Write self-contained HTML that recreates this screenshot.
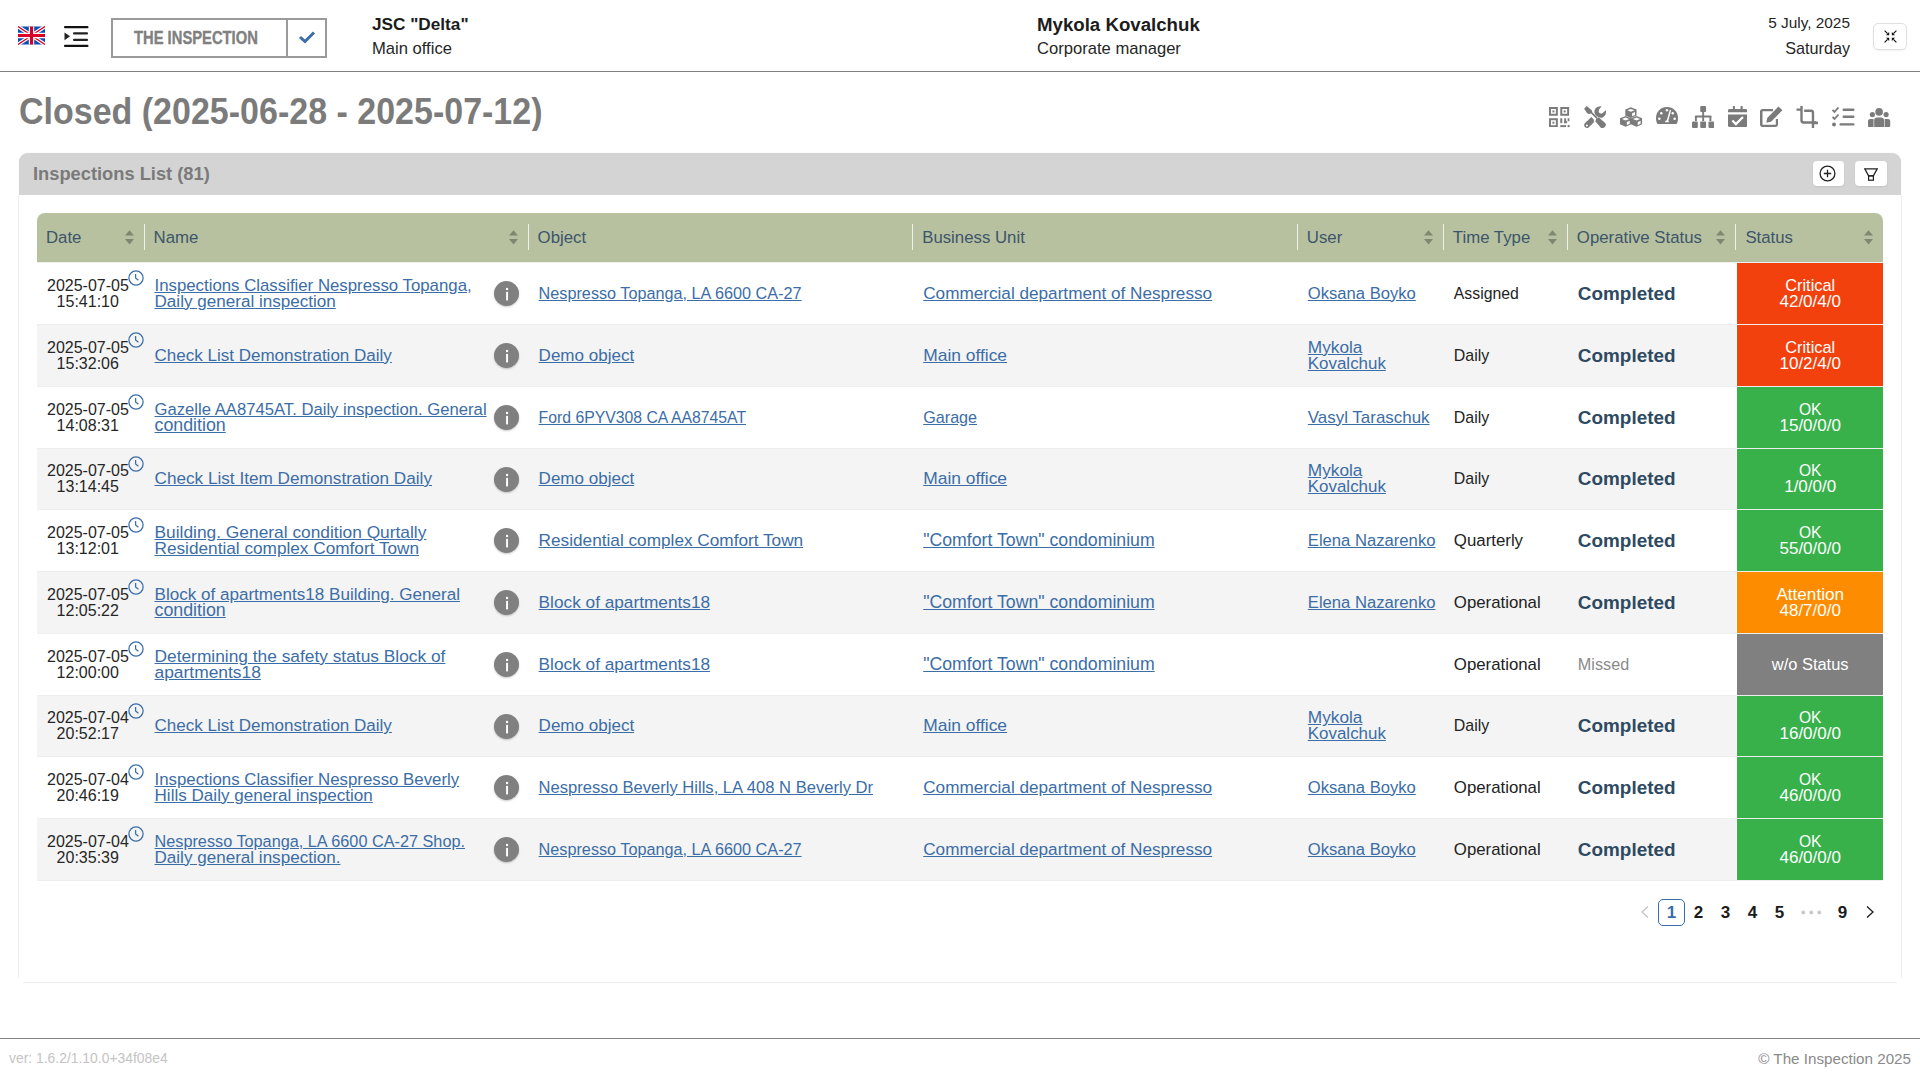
<!DOCTYPE html>
<html><head><meta charset="utf-8">
<style>
*{box-sizing:border-box}
html,body{margin:0;padding:0;width:1920px;height:1080px;overflow:hidden;background:#fff;font-family:"Liberation Sans",sans-serif;color:#222}
.abs{position:absolute;white-space:nowrap}
#hdr{position:absolute;left:0;top:0;width:1920px;height:72px;border-bottom:1px solid #808080}
.logo{position:absolute;left:111px;top:18px;width:216px;height:40px;border:2px solid #9a9a9a}
.logo .sep{position:absolute;left:173px;top:0;width:2px;height:36px;background:#9a9a9a}
.logo .txt{position:absolute;left:21px;top:8px;font-weight:bold;font-size:18px;color:#808080;transform:scaleX(0.82);transform-origin:0 0;letter-spacing:0;-webkit-text-stroke:0.35px #808080}
.b18{font-weight:bold;font-size:18px;color:#1c1c1c}
.r16{font-size:16px;color:#262626}
#title{position:absolute;left:19px;top:93px;font-size:34px;font-weight:bold;color:#7b7b7b;white-space:nowrap;transform:scaleY(1.06);transform-origin:0 100%}
.tb{position:absolute;top:106px;width:22px;height:22px}
.tb svg{width:22px;height:22px;display:block}
#panel{position:absolute;left:19px;top:153px;width:1882px;height:830px}
.pl{position:absolute;background:#ededed}
#phead{position:absolute;left:0;top:0;width:1882px;height:42px;background:#d4d4d4;border-radius:9px 9px 0 0;box-shadow:0 0 1px rgba(0,0,0,0.15)}
#phead .t{position:absolute;left:14px;top:10px;font-size:18.3px;font-weight:bold;color:#7a7a7a;white-space:nowrap}
.pbtn{position:absolute;top:8px;width:31px;height:25px;background:#fff;border-radius:4px;box-shadow:0 1px 2px rgba(0,0,0,0.08)}
table{position:absolute;left:37px;top:213px;border-collapse:separate;border-spacing:0;border-bottom:1px solid #eee;table-layout:fixed;width:1846px}
th{height:49px;box-sizing:border-box;background:#b7c1a0;text-align:left;font-weight:normal;font-size:16.8px;color:#3d556a;padding:0 0 0 9px;position:relative;white-space:nowrap}
th .dv{position:absolute;left:-1px;top:11px;width:1px;height:26px;background:#eef0ea}
th .sa{position:absolute;top:16.5px;width:9px;height:15px}
td{border-top:1px solid #eee;padding:0 0 0 10px;font-size:16.2px;line-height:15.75px;vertical-align:middle;white-space:nowrap;position:relative}
tr.g td{background:#f4f4f4}
a{color:#3b6da6;text-decoration:underline;font-size:16.7px}
td.dt{text-align:center;padding:0 16px 0 10px;color:#262626;font-size:16px;line-height:16px}
.clk{position:absolute;top:6.8px;left:90.6px;width:16px;height:16px}
.info{position:absolute;left:349.3px;width:25.4px;height:25.4px;border-radius:50%;background:#808080;top:18px;box-shadow:0 1px 2px rgba(0,0,0,0.22)}
.info svg{display:block}
td.cmp{font-weight:bold;font-size:18.9px;color:#2e4a62}
td.mis{color:#8a8a8a}
td.st{color:#fff;text-align:center;padding:0;border-left:1px solid #fff;font-size:17px;line-height:16px}
.red{background:#f3410d !important}
.grn{background:#38b14b !important}
.org{background:#fe8c00 !important}
.gry{background:#808080 !important}
#pag div{position:absolute;top:899px;height:27px;font-weight:bold;font-size:17px;line-height:27px;text-align:center;color:#1c1c1c}
#ftl{position:absolute;left:0;top:1038px;width:1920px;height:1px;background:#808080}
</style></head><body>
<div id="hdr">
  <svg class="abs" style="left:18px;top:26px" width="27" height="19" viewBox="0 0 60 40">
    <rect width="60" height="40" fill="#0a4fb4"/>
    <path d="M0,0 L60,40 M60,0 L0,40" stroke="#fff" stroke-width="8"/>
    <path d="M0,0 L60,40 M60,0 L0,40" stroke="#d80027" stroke-width="3"/>
    <path d="M30,0 V40 M0,20 H60" stroke="#fff" stroke-width="12"/>
    <path d="M30,0 V40 M0,20 H60" stroke="#d80027" stroke-width="7"/>
  </svg>
  <svg class="abs" style="left:64px;top:26px" width="25" height="21" viewBox="0 0 25 21">
    <rect x="0" y="0" width="24.5" height="2.2" rx="1" fill="#111"/>
    <rect x="9" y="6.3" width="15" height="2.2" rx="1" fill="#222"/>
    <rect x="9" y="12.7" width="15" height="2.2" rx="1" fill="#222"/>
    <rect x="0" y="18.8" width="24.5" height="2.2" rx="1" fill="#111"/>
    <path d="M0.5,6.5 L6,10.3 L0.5,14.3 Z" fill="#222"/>
  </svg>
  <div class="logo"><div class="txt">THE INSPECTION</div><div class="sep"></div>
    <svg class="abs" style="left:184.5px;top:10px" width="18" height="14" viewBox="0 0 18 14"><path d="M2,7 L7,11.5 L16,2.5" fill="none" stroke="#3b6da6" stroke-width="3"/></svg>
  </div>
  <div class="abs b18" style="left:372px;top:14px;font-size:17.2px">JSC "Delta"</div>
  <div class="abs r16" style="left:372px;top:38.5px;font-size:16.6px">Main office</div>
  <div class="abs b18" style="left:1037px;top:13.5px;font-size:18.67px">Mykola Kovalchuk</div>
  <div class="abs r16" style="left:1037px;top:38.5px;font-size:16.6px">Corporate manager</div>
  <div class="abs r16" style="right:70px;top:14px;text-align:right;font-size:15.4px">5 July, 2025</div>
  <div class="abs r16" style="right:70px;top:39px;text-align:right;font-size:16.2px">Saturday</div>
  <div class="abs" style="left:1873px;top:23px;width:34px;height:27px;border:1px solid #e0e0e0;border-radius:5px;box-shadow:0 1px 2px rgba(0,0,0,0.06)">
    <svg class="abs" style="left:9.5px;top:5.5px" width="13" height="13" viewBox="0 0 13 13" fill="#111">
      <path d="M0.6,0.6 L3.6,3.6" stroke="#111" stroke-width="1.2"/><path d="M5.2,5.2 V2 L2,5.2 Z"/>
      <path d="M12.4,0.6 L9.4,3.6" stroke="#111" stroke-width="1.2"/><path d="M7.8,5.2 V2 L11,5.2 Z"/>
      <path d="M0.6,12.4 L3.6,9.4" stroke="#111" stroke-width="1.2"/><path d="M5.2,7.8 V11 L2,7.8 Z"/>
      <path d="M12.4,12.4 L9.4,9.4" stroke="#111" stroke-width="1.2"/><path d="M7.8,7.8 V11 L11,7.8 Z"/>
    </svg>
  </div>
</div>

<div id="title">Closed (2025-06-28 - 2025-07-12)</div>
<div id="tbar">
<svg class="abs" style="left:1549px;top:107px" width="20.6" height="20.6" viewBox="0 0 21 21" fill="#7b7b7b">
 <path fill-rule="evenodd" d="M0,0 H9 V9 H0 Z M2,2 V7 H7 V2 Z"/><rect x="3.5" y="3.5" width="2" height="2"/>
 <path fill-rule="evenodd" d="M11.5,0 H20.5 V9 H11.5 Z M13.5,2 V7 H18.5 V2 Z"/><rect x="15" y="3.5" width="2" height="2"/>
 <path fill-rule="evenodd" d="M0,11.5 H9 V20.5 H0 Z M2,13.5 V18.5 H7 V13.5 Z"/><rect x="3.5" y="15" width="2" height="2"/>
 <rect x="11.5" y="11.5" width="2" height="5"/><rect x="11.5" y="18.5" width="6" height="2"/><rect x="15.5" y="11.5" width="2" height="5"/><rect x="15.5" y="14.5" width="3" height="2"/><rect x="19" y="11.5" width="1.8" height="3"/><rect x="19" y="18.3" width="2" height="2.2"/>
</svg>
<svg class="abs" style="left:1584px;top:106px" width="22" height="22" viewBox="0 0 22 22" fill="#7b7b7b">
 <path d="M0.1,2.7 L2.7,0 L8,4.4 L8.2,6.3 L13.6,11.6 L12.4,12.8 L7,7.6 L4.9,8 L3.2,7.3 Z"/>
 <path d="M12.2,12.6 L15,11.6 L21.4,17.3 C22.1,18.2 22,19.6 21.2,20.6 L20.3,21.5 C19.4,22.2 17.6,22.2 16.6,21.4 L11.4,15.6 Z"/>
 <path d="M0.6,17.6 L7.3,11 L9.8,13.5 L9.9,16.3 L4.6,21.4 C3.8,22.1 2.2,22.1 1.1,21.2 C0,20.2 -0.1,18.6 0.6,17.6 Z"/>
 <circle cx="2.9" cy="19.5" r="1" fill="#fff"/>
 <path d="M17.7,0.2 C15.5,-0.1 13,0.6 11.6,2.3 C10.2,4 10,6.4 11,8.2 L12.4,9.8 C14,11.4 16.6,12.2 18.6,11.4 C21.2,10.4 22.6,7.2 21.8,4.3 L18.4,7.2 C17,7.8 15.6,7.5 15,6.4 C14.4,5.2 14.8,3.6 15.8,2.6 Z"/>
</svg>
<svg class="abs" style="left:1620px;top:107px" width="23" height="21" viewBox="0 0 23 21" fill="#7b7b7b">
 <g transform="translate(5.3,0.2)"><path d="M5.6,0 L11.2,2.3 V8.4 L5.6,10.8 L0,8.4 V2.3 Z"/><path d="M5.6,1.7 L9.2,3.1 L5.6,4.6 L2,3.1 Z" fill="#fff"/><path d="M6.8,6 L9.7,4.8 V7.8 L6.8,9.1 Z" fill="#fff"/></g><g transform="translate(0,8.9)"><path d="M5.6,0 L11.2,2.3 V8.4 L5.6,10.8 L0,8.4 V2.3 Z"/><path d="M5.6,1.7 L9.2,3.1 L5.6,4.6 L2,3.1 Z" fill="#fff"/><path d="M6.8,6 L9.7,4.8 V7.8 L6.8,9.1 Z" fill="#fff"/></g><g transform="translate(10.9,8.9)"><path d="M5.6,0 L11.2,2.3 V8.4 L5.6,10.8 L0,8.4 V2.3 Z"/><path d="M5.6,1.7 L9.2,3.1 L5.6,4.6 L2,3.1 Z" fill="#fff"/><path d="M6.8,6 L9.7,4.8 V7.8 L6.8,9.1 Z" fill="#fff"/></g>
</svg>
<svg class="abs" style="left:1656.3px;top:107.2px" width="22" height="18" viewBox="0 0 23 19" preserveAspectRatio="none" fill="#7b7b7b">
 <path d="M11.5,0 C18,0 23,5 23,11.5 C23,14 22.5,16 21.5,18 H1.5 C0.5,16 0,14 0,11.5 C0,5 5,0 11.5,0 Z"/>
 <g fill="#fff"><circle cx="11.5" cy="3.4" r="1.3"/><circle cx="5.5" cy="6.5" r="1.3"/><circle cx="3.5" cy="12.5" r="1.3"/><circle cx="19.5" cy="12.5" r="1.3"/><circle cx="17.5" cy="6.5" r="1.3"/><path d="M14.5,3 L15.8,3.4 L12.9,14.5 C13.3,15 13.5,15.5 13.5,16 L9.5,16 C9.5,15 10.3,14.2 11.3,14.1 Z"/></g>
</svg>
<svg class="abs" style="left:1692px;top:106px" width="22.3" height="22" viewBox="0 0 23 22" preserveAspectRatio="none" fill="#7b7b7b">
 <rect x="8.5" y="0" width="6" height="6" rx="1"/>
 <rect x="10.5" y="5.5" width="2" height="5"/><rect x="3" y="9.5" width="17" height="2" rx="0.8"/>
 <rect x="3" y="10" width="2" height="5"/><rect x="10.5" y="10" width="2" height="5"/><rect x="18" y="10" width="2" height="5"/>
 <rect x="0" y="15.5" width="6" height="6.5" rx="1"/><rect x="8.5" y="15.5" width="6" height="6.5" rx="1"/><rect x="17" y="15.5" width="6" height="6.5" rx="1"/>
</svg>
<svg class="abs" style="left:1728px;top:106px" width="19.3" height="21" viewBox="0 0 20 21" preserveAspectRatio="none" fill="#7b7b7b">
 <rect x="5" y="0" width="2.2" height="4" rx="0.5"/><rect x="13" y="0" width="2.2" height="4" rx="0.5"/>
 <path d="M1.5,3 H18.5 C19.3,3 20,3.7 20,4.5 V6.3 H0 V4.5 C0,3.7 0.7,3 1.5,3 Z"/>
 <path d="M0,8.5 H20 V19.5 C20,20.3 19.3,21 18.5,21 H1.5 C0.7,21 0,20.3 0,19.5 Z"/>
 <path d="M4.5,14.5 L8.2,18 L15.5,11" fill="none" stroke="#fff" stroke-width="2.4"/>
</svg>
<svg class="abs" style="left:1760px;top:106px" width="23" height="21" viewBox="0 0 23 21" fill="#7b7b7b">
 <path d="M2.5,3 H13 V5.3 H2.5 V18.7 H15.8 V13 H18 V18.5 C18,19.9 16.9,21 15.5,21 H2.5 C1.1,21 0,19.9 0,18.5 V5.5 C0,4.1 1.1,3 2.5,3 Z"/>
 <path d="M18.5,0.6 L22.4,4.2 L11,15.8 L6.3,16.8 L7.2,12 Z"/>
</svg>
<svg class="abs" style="left:1796px;top:106px" width="22" height="22" viewBox="0 0 23 23" fill="#7b7b7b">
 <path d="M4.5,0 H7 V15 C7,15.5 7.4,16 8,16 H21.5 V18.5 H7.5 C5.8,18.5 4.5,17.2 4.5,15.5 V5 H0.5 V2.5 H4.5 Z"/>
 <path d="M8.5,3.7 H16 C17.7,3.7 19,5 19,6.7 V16.5 H23 V19 H19 V23 H16.5 V7 C16.5,6.5 16.1,6.2 15.5,6.2 H8.5 Z"/>
</svg>
<svg class="abs" style="left:1832px;top:107px" width="23" height="20" viewBox="0 0 23 20" fill="#7b7b7b">
 <path d="M0.5,3 L2.5,5 L6.5,0.5" fill="none" stroke="#7b7b7b" stroke-width="1.8"/>
 <path d="M0.5,10 L2.5,12 L6.5,7.5" fill="none" stroke="#7b7b7b" stroke-width="1.8"/>
 <circle cx="2" cy="17.5" r="2"/>
 <rect x="10.5" y="1.5" width="12" height="2.4" rx="1.2"/><rect x="10.5" y="8.5" width="12" height="2.4" rx="1.2"/><rect x="7.5" y="16.2" width="15" height="2.4" rx="1.2"/>
</svg>
<svg class="abs" style="left:1868px;top:107px" width="23" height="20" viewBox="0 0 23 20" fill="#7b7b7b">
 <circle cx="11.1" cy="4.9" r="3.8"/><circle cx="4.4" cy="7.6" r="2.6"/><circle cx="18.1" cy="7.6" r="2.6"/>
 <path d="M6.2,13.2 C6.2,11.6 7.3,10.5 8.9,10.5 H13.3 C14.9,10.5 16,11.6 16,13.2 V20 H6.2 Z"/>
 <path d="M0,14 C0,12.8 0.9,11.9 2.1,11.9 H5.6 V20 H1 C0.4,20 0,19.6 0,19 Z"/>
 <path d="M22.2,14 C22.2,12.8 21.3,11.9 20.1,11.9 H16.6 V20 H21.2 C21.8,20 22.2,19.6 22.2,19 Z"/>
</svg>
</div>


<div class="pl" style="left:18px;top:195px;width:1px;height:783px"></div><div class="pl" style="left:1901px;top:195px;width:1px;height:783px"></div><div class="pl" style="left:23px;top:982px;width:1874px;height:1px"></div>
<div id="panel">
  <div id="phead"><div class="t">Inspections List (81)</div>
    <div class="pbtn" style="left:1794px;width:31px"><svg class="abs" style="left:6px;top:4.3px" width="17" height="17" viewBox="0 0 17 17" fill="none" stroke="#222" stroke-width="1.3"><circle cx="8.5" cy="8.5" r="7.4"/><path d="M8.5,4.8 V12.2 M4.8,8.5 H12.2"/></svg></div>
    <div class="pbtn" style="left:1836px;width:32px"><svg class="abs" style="left:9px;top:6.5px" width="14" height="13" viewBox="0 0 14 13" fill="none" stroke="#222" stroke-width="1.25"><path d="M0.8,0.8 H13.2 L9.4,7.8 H4.6 Z"/><rect x="4.6" y="7.8" width="4.8" height="4.4"/></svg></div>
  </div>
</div>
<table><colgroup><col style="width:107.5px"><col style="width:384px"><col style="width:384.5px"><col style="width:384.5px"><col style="width:146px"><col style="width:124px"><col style="width:168.5px"><col style="width:146.5px"></colgroup><tr><th style="border-top-left-radius:8px">Date<svg class="sa" style="right:10.5px" viewBox="0 0 9 15"><path d="M4.5,0.3 L9,5.6 H0 Z M0,9.1 H9 L4.5,14.4 Z" fill="#7e8870"/></svg></th><th><div class="dv"></div>Name<svg class="sa" style="right:10.5px" viewBox="0 0 9 15"><path d="M4.5,0.3 L9,5.6 H0 Z M0,9.1 H9 L4.5,14.4 Z" fill="#7e8870"/></svg></th><th><div class="dv"></div>Object</th><th><div class="dv"></div>Business Unit</th><th><div class="dv"></div>User<svg class="sa" style="right:10.5px" viewBox="0 0 9 15"><path d="M4.5,0.3 L9,5.6 H0 Z M0,9.1 H9 L4.5,14.4 Z" fill="#7e8870"/></svg></th><th><div class="dv"></div>Time Type<svg class="sa" style="right:10.5px" viewBox="0 0 9 15"><path d="M4.5,0.3 L9,5.6 H0 Z M0,9.1 H9 L4.5,14.4 Z" fill="#7e8870"/></svg></th><th><div class="dv"></div>Operative Status<svg class="sa" style="right:11px" viewBox="0 0 9 15"><path d="M4.5,0.3 L9,5.6 H0 Z M0,9.1 H9 L4.5,14.4 Z" fill="#7e8870"/></svg></th><th style="border-top-right-radius:8px"><div class="dv"></div>Status<svg class="sa" style="right:10.5px" viewBox="0 0 9 15"><path d="M4.5,0.3 L9,5.6 H0 Z M0,9.1 H9 L4.5,14.4 Z" fill="#7e8870"/></svg></th></tr><tr style="height:62px"><td class="dt">2025-07-05<br>15:41:10<svg class="clk" viewBox="0 0 16 16" fill="none" stroke="#3b6da6" stroke-width="1.25"><circle cx="8" cy="8" r="7.1"/><path d="M7.6,3.9 V7.9 L10.4,10.3"/></svg></td><td><a><span style="font-size:16.81px">Inspections Classifier Nespresso Topanga,</span><br><span style="font-size:17.08px">Daily general inspection</span></a><div class="info"><svg width="25.4" height="25.4" viewBox="0 0 25.4 25.4"><rect x="12" y="6.9" width="2.1" height="2.2" fill="#fff"/><rect x="12.1" y="10.9" width="1.95" height="8.5" fill="#fff"/></svg></div></td><td><a><span style="font-size:16.23px">Nespresso Topanga, LA 6600 CA-27</span></a></td><td><a><span style="font-size:17.16px">Commercial department of Nespresso</span></a></td><td><a><span style="font-size:16.61px">Oksana Boyko</span></a></td><td><span style="font-size:15.80px">Assigned</span></td><td class="cmp">Completed</td><td class="st red"><span style="font-size:16.34px">Critical</span><br>42/0/4/0</td></tr><tr class="g" style="height:62px"><td class="dt">2025-07-05<br>15:32:06<svg class="clk" viewBox="0 0 16 16" fill="none" stroke="#3b6da6" stroke-width="1.25"><circle cx="8" cy="8" r="7.1"/><path d="M7.6,3.9 V7.9 L10.4,10.3"/></svg></td><td><a><span style="font-size:17.03px">Check List Demonstration Daily</span></a><div class="info"><svg width="25.4" height="25.4" viewBox="0 0 25.4 25.4"><rect x="12" y="6.9" width="2.1" height="2.2" fill="#fff"/><rect x="12.1" y="10.9" width="1.95" height="8.5" fill="#fff"/></svg></div></td><td><a><span style="font-size:17.03px">Demo object</span></a></td><td><a><span style="font-size:17.42px">Main office</span></a></td><td><a><span style="font-size:17.24px">Mykola</span><br><span style="font-size:16.93px">Kovalchuk</span></a></td><td><span style="font-size:15.93px">Daily</span></td><td class="cmp">Completed</td><td class="st red"><span style="font-size:16.34px">Critical</span><br>10/2/4/0</td></tr><tr style="height:62px"><td class="dt">2025-07-05<br>14:08:31<svg class="clk" viewBox="0 0 16 16" fill="none" stroke="#3b6da6" stroke-width="1.25"><circle cx="8" cy="8" r="7.1"/><path d="M7.6,3.9 V7.9 L10.4,10.3"/></svg></td><td><a><span style="font-size:16.67px">Gazelle AA8745AT. Daily inspection. General</span><br><span style="font-size:17.81px">condition</span></a><div class="info"><svg width="25.4" height="25.4" viewBox="0 0 25.4 25.4"><rect x="12" y="6.9" width="2.1" height="2.2" fill="#fff"/><rect x="12.1" y="10.9" width="1.95" height="8.5" fill="#fff"/></svg></div></td><td><a><span style="font-size:15.78px">Ford 6PYV308 CA AA8745AT</span></a></td><td><a><span style="font-size:16.16px">Garage</span></a></td><td><a><span style="font-size:16.96px">Vasyl Taraschuk</span></a></td><td><span style="font-size:15.93px">Daily</span></td><td class="cmp">Completed</td><td class="st grn"><span style="font-size:15.6px">OK</span><br>15/0/0/0</td></tr><tr class="g" style="height:61px"><td class="dt">2025-07-05<br>13:14:45<svg class="clk" viewBox="0 0 16 16" fill="none" stroke="#3b6da6" stroke-width="1.25"><circle cx="8" cy="8" r="7.1"/><path d="M7.6,3.9 V7.9 L10.4,10.3"/></svg></td><td><a><span style="font-size:17.16px">Check List Item Demonstration Daily</span></a><div class="info"><svg width="25.4" height="25.4" viewBox="0 0 25.4 25.4"><rect x="12" y="6.9" width="2.1" height="2.2" fill="#fff"/><rect x="12.1" y="10.9" width="1.95" height="8.5" fill="#fff"/></svg></div></td><td><a><span style="font-size:17.03px">Demo object</span></a></td><td><a><span style="font-size:17.42px">Main office</span></a></td><td><a><span style="font-size:17.24px">Mykola</span><br><span style="font-size:16.93px">Kovalchuk</span></a></td><td><span style="font-size:15.93px">Daily</span></td><td class="cmp">Completed</td><td class="st grn"><span style="font-size:15.6px">OK</span><br>1/0/0/0</td></tr><tr style="height:62px"><td class="dt">2025-07-05<br>13:12:01<svg class="clk" viewBox="0 0 16 16" fill="none" stroke="#3b6da6" stroke-width="1.25"><circle cx="8" cy="8" r="7.1"/><path d="M7.6,3.9 V7.9 L10.4,10.3"/></svg></td><td><a><span style="font-size:17.35px">Building. General condition Qurtally</span><br><span style="font-size:17.22px">Residential complex Comfort Town</span></a><div class="info"><svg width="25.4" height="25.4" viewBox="0 0 25.4 25.4"><rect x="12" y="6.9" width="2.1" height="2.2" fill="#fff"/><rect x="12.1" y="10.9" width="1.95" height="8.5" fill="#fff"/></svg></div></td><td><a><span style="font-size:17.22px">Residential complex Comfort Town</span></a></td><td><a><span style="font-size:17.70px">"Comfort Town" condominium</span></a></td><td><a><span style="font-size:16.65px">Elena Nazarenko</span></a></td><td><span style="font-size:16.83px">Quarterly</span></td><td class="cmp">Completed</td><td class="st grn"><span style="font-size:15.6px">OK</span><br>55/0/0/0</td></tr><tr class="g" style="height:62px"><td class="dt">2025-07-05<br>12:05:22<svg class="clk" viewBox="0 0 16 16" fill="none" stroke="#3b6da6" stroke-width="1.25"><circle cx="8" cy="8" r="7.1"/><path d="M7.6,3.9 V7.9 L10.4,10.3"/></svg></td><td><a><span style="font-size:17.07px">Block of apartments18 Building. General</span><br><span style="font-size:17.81px">condition</span></a><div class="info"><svg width="25.4" height="25.4" viewBox="0 0 25.4 25.4"><rect x="12" y="6.9" width="2.1" height="2.2" fill="#fff"/><rect x="12.1" y="10.9" width="1.95" height="8.5" fill="#fff"/></svg></div></td><td><a><span style="font-size:17.24px">Block of apartments18</span></a></td><td><a><span style="font-size:17.70px">"Comfort Town" condominium</span></a></td><td><a><span style="font-size:16.65px">Elena Nazarenko</span></a></td><td><span style="font-size:16.81px">Operational</span></td><td class="cmp">Completed</td><td class="st org"><span style="font-size:17.14px">Attention</span><br>48/7/0/0</td></tr><tr style="height:62px"><td class="dt">2025-07-05<br>12:00:00<svg class="clk" viewBox="0 0 16 16" fill="none" stroke="#3b6da6" stroke-width="1.25"><circle cx="8" cy="8" r="7.1"/><path d="M7.6,3.9 V7.9 L10.4,10.3"/></svg></td><td><a><span style="font-size:17.33px">Determining the safety status Block of</span><br><span style="font-size:17.40px">apartments18</span></a><div class="info"><svg width="25.4" height="25.4" viewBox="0 0 25.4 25.4"><rect x="12" y="6.9" width="2.1" height="2.2" fill="#fff"/><rect x="12.1" y="10.9" width="1.95" height="8.5" fill="#fff"/></svg></div></td><td><a><span style="font-size:17.24px">Block of apartments18</span></a></td><td><a><span style="font-size:17.70px">"Comfort Town" condominium</span></a></td><td></td><td><span style="font-size:16.81px">Operational</span></td><td class="mis">Missed</td><td class="st gry"><span style="font-size:16.43px">w/o Status</span></td></tr><tr class="g" style="height:61px"><td class="dt">2025-07-04<br>20:52:17<svg class="clk" viewBox="0 0 16 16" fill="none" stroke="#3b6da6" stroke-width="1.25"><circle cx="8" cy="8" r="7.1"/><path d="M7.6,3.9 V7.9 L10.4,10.3"/></svg></td><td><a><span style="font-size:17.03px">Check List Demonstration Daily</span></a><div class="info"><svg width="25.4" height="25.4" viewBox="0 0 25.4 25.4"><rect x="12" y="6.9" width="2.1" height="2.2" fill="#fff"/><rect x="12.1" y="10.9" width="1.95" height="8.5" fill="#fff"/></svg></div></td><td><a><span style="font-size:17.03px">Demo object</span></a></td><td><a><span style="font-size:17.42px">Main office</span></a></td><td><a><span style="font-size:17.24px">Mykola</span><br><span style="font-size:16.93px">Kovalchuk</span></a></td><td><span style="font-size:15.93px">Daily</span></td><td class="cmp">Completed</td><td class="st grn"><span style="font-size:15.6px">OK</span><br>16/0/0/0</td></tr><tr style="height:62px"><td class="dt">2025-07-04<br>20:46:19<svg class="clk" viewBox="0 0 16 16" fill="none" stroke="#3b6da6" stroke-width="1.25"><circle cx="8" cy="8" r="7.1"/><path d="M7.6,3.9 V7.9 L10.4,10.3"/></svg></td><td><a><span style="font-size:16.82px">Inspections Classifier Nespresso Beverly</span><br><span style="font-size:17.09px">Hills Daily general inspection</span></a><div class="info"><svg width="25.4" height="25.4" viewBox="0 0 25.4 25.4"><rect x="12" y="6.9" width="2.1" height="2.2" fill="#fff"/><rect x="12.1" y="10.9" width="1.95" height="8.5" fill="#fff"/></svg></div></td><td><a><span style="font-size:16.58px">Nespresso Beverly Hills, LA 408 N Beverly Dr</span></a></td><td><a><span style="font-size:17.16px">Commercial department of Nespresso</span></a></td><td><a><span style="font-size:16.61px">Oksana Boyko</span></a></td><td><span style="font-size:16.81px">Operational</span></td><td class="cmp">Completed</td><td class="st grn"><span style="font-size:15.6px">OK</span><br>46/0/0/0</td></tr><tr class="g" style="height:62px"><td class="dt">2025-07-04<br>20:35:39<svg class="clk" viewBox="0 0 16 16" fill="none" stroke="#3b6da6" stroke-width="1.25"><circle cx="8" cy="8" r="7.1"/><path d="M7.6,3.9 V7.9 L10.4,10.3"/></svg></td><td><a><span style="font-size:16.25px">Nespresso Topanga, LA 6600 CA-27 Shop.</span><br><span style="font-size:17.07px">Daily general inspection.</span></a><div class="info"><svg width="25.4" height="25.4" viewBox="0 0 25.4 25.4"><rect x="12" y="6.9" width="2.1" height="2.2" fill="#fff"/><rect x="12.1" y="10.9" width="1.95" height="8.5" fill="#fff"/></svg></div></td><td><a><span style="font-size:16.23px">Nespresso Topanga, LA 6600 CA-27</span></a></td><td><a><span style="font-size:17.16px">Commercial department of Nespresso</span></a></td><td><a><span style="font-size:16.61px">Oksana Boyko</span></a></td><td><span style="font-size:16.81px">Operational</span></td><td class="cmp">Completed</td><td class="st grn"><span style="font-size:15.6px">OK</span><br>46/0/0/0</td></tr></table>
<div id="pag">
<svg class="abs" style="left:1640px;top:906px" width="10" height="12" viewBox="0 0 10 12"><path d="M8,0.5 L2,6 L8,11.5" fill="none" stroke="#c4c4c4" stroke-width="1.3"/></svg>
<div style="left:1658px;width:27px;border:1px solid #3b6da6;border-radius:5px;color:#3b6da6;line-height:25px">1</div>
<div style="left:1685px;width:27px">2</div>
<div style="left:1712px;width:27px">3</div>
<div style="left:1739px;width:27px">4</div>
<div style="left:1766px;width:27px">5</div>
<svg class="abs" style="left:1801px;top:909.5px" width="21" height="5" viewBox="0 0 21 5" fill="#c8c8c8"><circle cx="2.2" cy="2.5" r="1.9"/><circle cx="10.2" cy="2.5" r="1.9"/><circle cx="18.2" cy="2.5" r="1.9"/></svg>
<div style="left:1829px;width:27px">9</div>
<svg class="abs" style="left:1865px;top:906px" width="10" height="12" viewBox="0 0 10 12"><path d="M2,0.5 L8,6 L2,11.5" fill="none" stroke="#1c1c1c" stroke-width="1.3"/></svg>
</div>

<div id="ftl"></div>
<div class="abs" style="left:9px;top:1050px;font-size:13.9px;color:#c4c4c4">ver: 1.6.2/1.10.0+34f08e4</div>
<div class="abs" style="right:9px;top:1050px;font-size:15.2px;color:#8a8a8a">© The Inspection 2025</div>
</body></html>
